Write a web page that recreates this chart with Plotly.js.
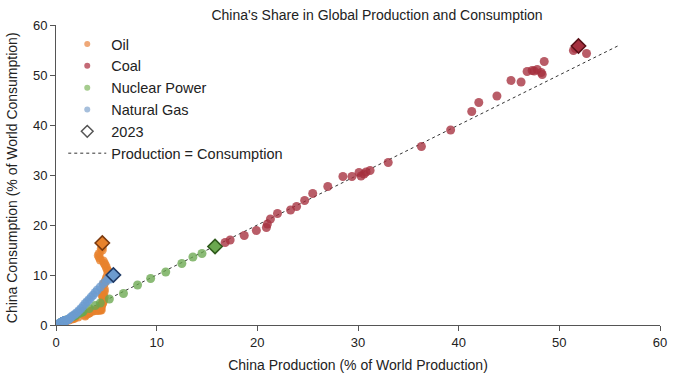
<!DOCTYPE html>
<html><head><meta charset="utf-8">
<script src="https://cdn.plot.ly/plotly-3.0.1.min.js"></script>
<style>html,body{margin:0;padding:0;background:#fff}</style>
</head><body><div id="chart" style="width:674px;height:377px"></div>
<script>
// Oil 1965-2023
const oilProd = [0.7,0.9,0.8,0.9,1.0,1.3,1.6,1.8,1.9,2.2, 2.9,2.9,3.1,3.3,3.3,3.5,3.6,3.7,4.0,4.2, 4.5,4.4,4.4,4.3,4.3,4.4,4.5,4.5,4.6,4.6, 4.7,4.7,4.8,4.7,4.6,4.6,4.7,4.8,4.8,4.7, 4.8,4.9,5.0,5.0,5.1,5.2,5.1,5.0,4.9,4.8, 4.7,4.4,4.3,4.2,4.3,4.6,4.5,4.6,4.6];
const oilCons = [0.7,0.8,0.7,0.7,0.8,1.0,1.2,1.3,1.5,1.6, 1.8,2.0,2.2,2.4,2.4,2.8,2.8,2.8,2.9,2.9, 3.0,3.0,3.1,3.2,3.3,3.4,3.6,3.9,4.2,4.3, 4.7,5.0,5.5,5.6,5.8,6.2,6.3,6.7,7.2,8.1, 8.3,8.8,9.1,9.3,9.9,10.7,11.0,11.5,12.0,12.3, 12.8,13.0,13.5,13.9,14.3,15.6,15.3,15.0,16.4];
// Coal 1985-2023
const coalProd = [16.8,17.3,18.7,19.9,20.9,21.0,21.3,22.0,23.3,23.9,24.7,25.5,27.0,28.5,29.4,30.1,30.3,30.6,30.8,31.2,33.0,36.3,39.2,41.3,42.0,43.8,45.2,46.2,46.8,47.3,47.8,48.2,48.3,48.5,47.5,51.4,51.6,52.7,51.9];
const coalCons = [16.5,17.0,17.9,18.9,19.5,20.2,21.2,22.3,23.0,23.7,24.9,26.3,27.7,29.7,29.7,30.5,29.8,30.2,30.6,30.9,32.5,35.7,39.0,42.7,44.5,45.8,48.9,48.6,50.7,50.9,51.1,50.5,50.1,52.7,50.8,54.9,55.3,54.3,55.8];
// Nuclear Power 1994-2023
const nucProd = [0.1,0.6,0.6,0.6,0.6,0.6,0.6,0.6,0.7,1.0,1.7,1.8,1.9,1.9,2.2,2.5,2.6,2.7,3.3,3.9,4.4,5.3,6.7,8.1,9.4,10.9,12.5,13.6,14.5,15.8];
const nucCons = [0.1,0.6,0.6,0.6,0.6,0.6,0.6,0.6,0.7,1.0,1.7,1.8,1.9,1.9,2.2,2.5,2.6,2.7,3.3,3.9,4.4,5.2,6.3,8.0,9.3,10.6,12.3,13.6,14.3,15.7];
// Natural Gas 1970-2023
const gasProd = [0.3,0.3,0.4,0.5,0.6,0.6,0.7,0.8,0.9,0.9, 0.9,0.8,0.8,0.8,0.7,0.7,0.7,0.7,0.7,0.7, 0.8,0.8,0.8,0.8,0.8,0.8,0.9,0.9,1.0,1.1, 1.1,1.2,1.3,1.4,1.5,1.7,1.9,2.1,2.3,2.5, 2.7,2.9,3.1,3.3,3.5,3.7,3.9,4.1,4.4,4.7, 5.0,5.2,5.4,5.7];
const gasCons = [0.3,0.3,0.4,0.5,0.6,0.6,0.7,0.8,0.9,0.9, 0.9,0.8,0.8,0.8,0.7,0.7,0.7,0.7,0.7,0.7, 0.8,0.8,0.8,0.8,0.8,0.8,0.8,0.9,0.9,1.0, 1.0,1.1,1.2,1.4,1.6,1.9,2.2,2.5,2.9,3.3, 3.8,4.3,4.7,5.1,5.6,6.0,6.5,7.0,7.6,8.3, 8.8,9.3,9.2,10.0];

const seriesNames = ['Oil','Coal','Nuclear Power','Natural Gas'];
const tickVals = [0,10,20,30,40,50,60];

const series = [
  {name:seriesNames[0], x:oilProd, y:oilCons, color:'#E8822C', edge:'#7a3a10', legend:'#EFA878'},
  {name:seriesNames[1], x:coalProd, y:coalCons, color:'#A52F3E', edge:'#5a1018', legend:'#C46A76'},
  {name:seriesNames[2], x:nucProd, y:nucCons, color:'#6AA84F', edge:'#2f5a1c', legend:'#A5CC8E'},
  {name:seriesNames[3], x:gasProd, y:gasCons, color:'#6C9BCF', edge:'#1f3a66', legend:'#A6BFDC'}
];

const traces = [];
series.forEach((s,i)=>{
  traces.push({type:'scatter', mode:'markers', x:[null], y:[null], name:s.name,
    marker:{size:6, color:s.legend}, showlegend:true, legendgroup:'g'+i, hoverinfo:'skip'});
});
traces.push({type:'scatter', mode:'markers', x:[null], y:[null], name:'2023',
  marker:{size:9, symbol:'diamond-open', color:'#555', line:{width:1.5,color:'#555'}}, showlegend:true, legendgroup:'g4'});

const allVals = [].concat(oilProd,oilCons,coalProd,coalCons,nucProd,nucCons,gasProd,gasCons);
const lineEnd = Math.max(...allVals);
traces.push({type:'scatter', mode:'lines', x:[0,lineEnd], y:[0,lineEnd], name:'Production = Consumption',
  line:{color:'#333', width:1, dash:'dot'}, showlegend:true, legendgroup:'g5'});

series.forEach(s=>{
  traces.push({type:'scatter', mode:'markers', x:s.x, y:s.y, name:s.name, showlegend:false,
    marker:{size:9, color:s.color, opacity:0.78, line:{width:0}}});
});
series.forEach(s=>{
  const n = s.x.length-1;
  traces.push({type:'scatter', mode:'markers', x:[s.x[n]], y:[s.y[n]], showlegend:false,
    marker:{size:11, symbol:'diamond', color:s.color, line:{width:1.6, color:s.edge}}});
});

const axisCommon = {range:[0,60], tickvals:tickVals, ticks:'outside', ticklen:5, tickwidth:1, tickcolor:'#555',
  showline:true, linecolor:'#555', linewidth:1, showgrid:false, zeroline:false,
  tickfont:{size:13, color:'#222'}};

const layout = {
  width:674, height:377,
  margin:{l:56, r:14, t:25, b:52},
  paper_bgcolor:'#fff', plot_bgcolor:'#fff',
  font:{family:'Liberation Sans, Arial, sans-serif', size:13, color:'#222'},
  title:{text:"China's Share in Global Production and Consumption", font:{size:14, color:'#222'},
    x:0.5315, xref:'paper', y:0.96, yref:'container', yanchor:'middle'},
  xaxis:Object.assign({}, axisCommon, {title:{text:'China Production (% of World Production)', font:{size:14}, standoff:11}}),
  yaxis:Object.assign({}, axisCommon, {automargin:false}),
  annotations:[{text:'China Consumption (% of World Consumption)', textangle:-90, showarrow:false,
    xref:'paper', yref:'paper', x:-0.0725, y:0.49, xanchor:'center', yanchor:'middle', font:{size:14, color:'#222'}}],
  legend:{x:0.012, y:0.99, xanchor:'left', yanchor:'top', bgcolor:'rgba(0,0,0,0)', font:{size:14.5, color:'#222'},
    tracegroupgap:0, itemwidth:38},
  showlegend:true
};
Plotly.newPlot('chart', traces, layout, {displayModeBar:false, staticPlot:true});
</script>
</body></html>
